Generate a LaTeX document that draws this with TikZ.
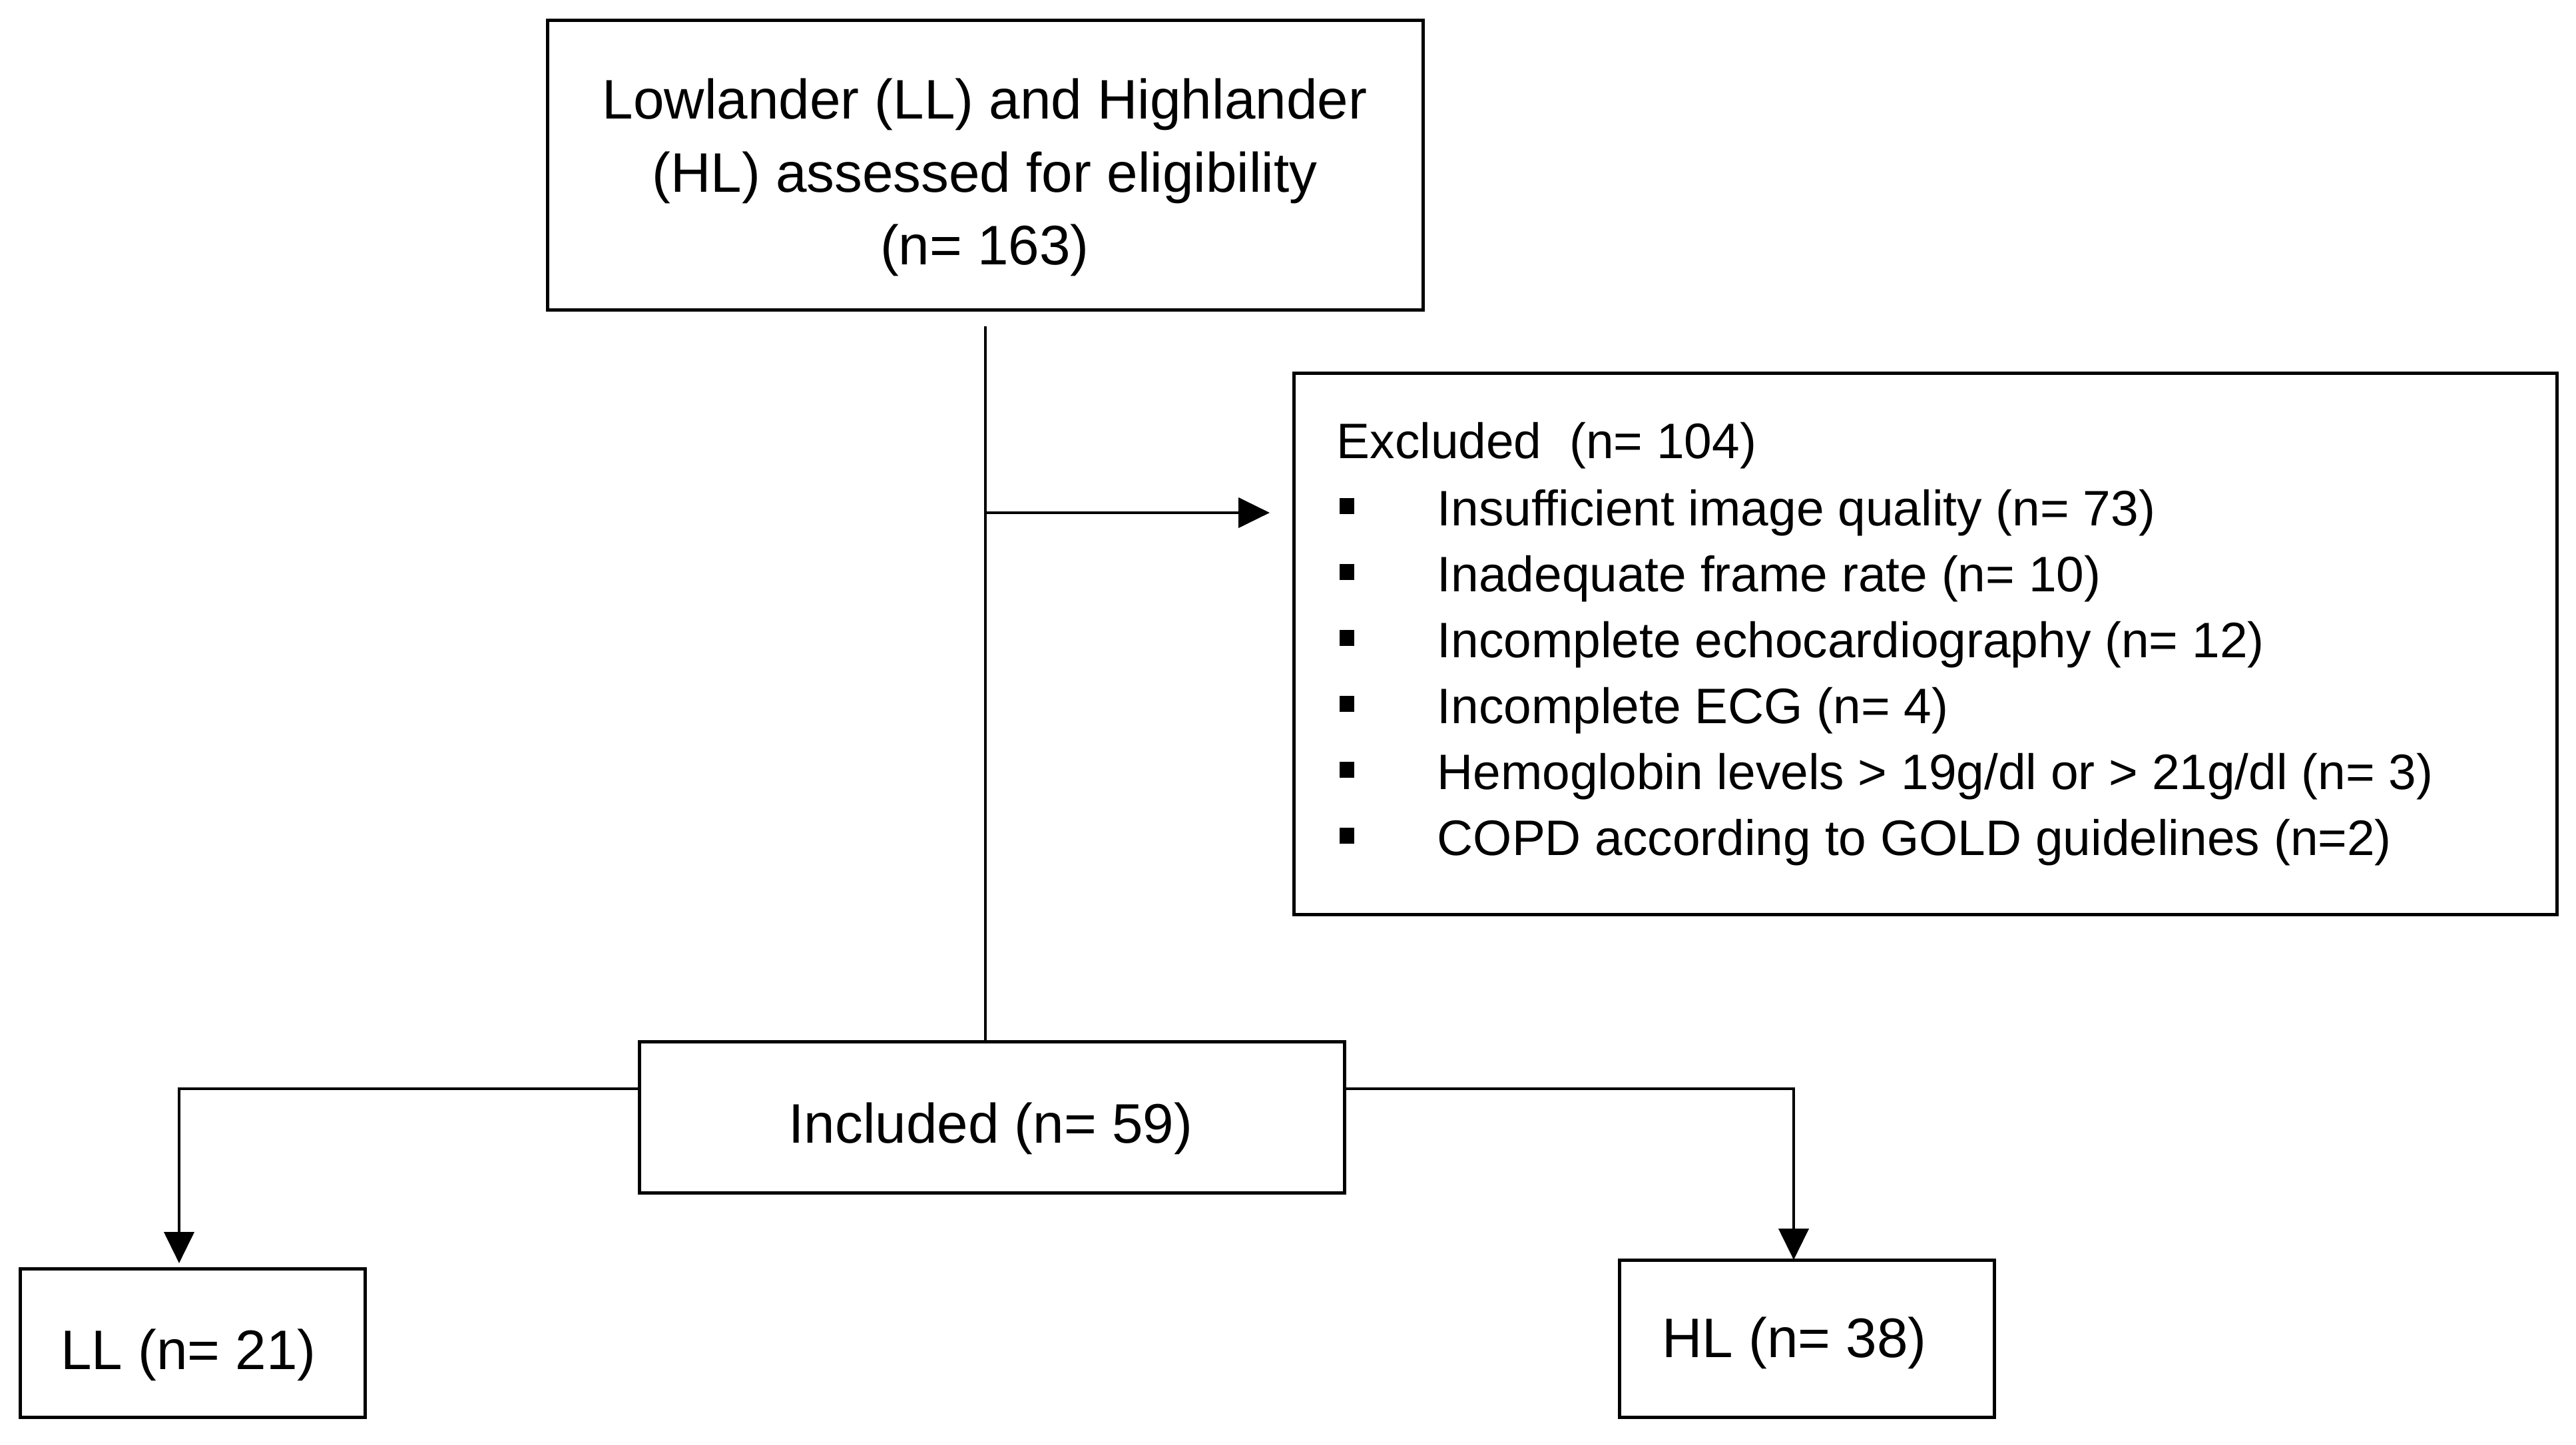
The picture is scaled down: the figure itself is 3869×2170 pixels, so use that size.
\documentclass[tikz,border=0pt]{standalone}
\usepackage{fontspec}
\setmainfont{Liberation Sans}
\usetikzlibrary{arrows.meta}
\newcommand{\bulsq}{\rule[1.8mm]{2.2mm}{2.4mm}}
\begin{document}
\begin{tikzpicture}[x=0.1mm,y=-0.1mm,
  box/.style={draw=black, line width=0.5mm, inner sep=0pt, outer sep=0pt},
  big/.style={inner sep=0pt, font=\fontsize{23.8}{30}\selectfont},
  small/.style={inner sep=0pt, anchor=base west, font=\fontsize{21.3}{27}\selectfont},
  conn/.style={line width=0.45mm, draw=black},
  arr/.style={conn, -{Triangle[length=4.7mm,width=4.5mm]}}]
\useasboundingbox[fill=white] (0,0) rectangle (3869,2170);

% boxes
\node[box, minimum width=131.5mm, minimum height=43.5mm] (top) at (1479.5,248.5) {};
\node[box, minimum width=189.7mm, minimum height=81.3mm] (excl) at (2891.5,967.5) {};
\node[box, minimum width=105.9mm, minimum height=22.7mm] (inc) at (1489.5,1678.5) {};
\node[box, minimum width=51.8mm, minimum height=22.3mm] (ll) at (289,2016.5) {};
\node[box, minimum width=56.3mm, minimum height=23.6mm] (hl) at (2713.5,2010) {};

% top text
\node[big, anchor=base] (t1) at (1479,179) {Lowlander (LL) and Highlander};
\node[big, anchor=base] (t2) at (1479,289) {(HL) assessed for eligibility};
\node[big, anchor=base] (t3) at (1479,398) {(n= 163)};

% excluded text
\node[small] (e0) at (2007,689) {Excluded\ \ (n= 104)};
\node[small] (e1) at (2011,790) {\makebox[14.7mm][l]{\bulsq}Insufficient image quality (n= 73)};
\node[small] (e2) at (2011,889) {\makebox[14.7mm][l]{\bulsq}Inadequate frame rate (n= 10)};
\node[small] (e3) at (2011,988) {\makebox[14.7mm][l]{\bulsq}Incomplete echocardiography (n= 12)};
\node[small] (e4) at (2011,1087) {\makebox[14.7mm][l]{\bulsq}Incomplete ECG (n= 4)};
\node[small] (e5) at (2011,1186) {\makebox[14.7mm][l]{\bulsq}Hemoglobin levels > 19g/dl or > 21g/dl (n= 3)};
\node[small] (e6) at (2011,1285) {\makebox[14.7mm][l]{\bulsq}COPD according to GOLD guidelines (n=2)};

% other texts
\node[big, anchor=base] (inct) at (1488,1717) {Included (n= 59)};
\node[big, anchor=base] (llt) at (283,2056) {LL (n= 21)};
\node[big, anchor=base] (hlt) at (2695,2038) {HL (n= 38)};

% connectors
\coordinate (v0) at (1480,490);
\coordinate (vb) at (1480,770);
\coordinate (lb) at (269,1635);
\coordinate (rb) at (2694,1635);
\draw[conn] (v0) -- (v0 |- inc.north);
\draw[arr] (vb) -- ([xshift=-3.6mm]excl.west |- vb);
\draw[arr] (inc.west |- lb) -- (lb) -- ([yshift=0.8mm]lb |- ll.north);
\draw[arr] (inc.east |- rb) -- (rb) -- (rb |- hl.north);
\end{tikzpicture}
\end{document}
